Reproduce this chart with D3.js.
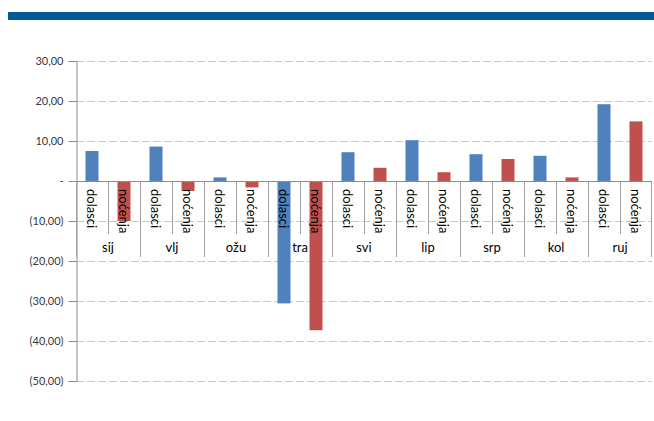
<!DOCTYPE html>
<html><head><meta charset="utf-8">
<script src="https://cdn.jsdelivr.net/npm/d3@7"></script>
<style>body{margin:0;background:#fff}svg{display:block}</style>
</head><body>
<script>
const months = ["sij","vlj","ožu","tra","svi","lip","srp","kol","ruj"];
const seriesNames = ["dolasci","noćenja"];
const dolasci = [7.5, 8.6, 0.9, -30.6, 7.2, 10.2, 6.7, 6.3, 19.2];
const nocenja = [-10.0, -2.5, -1.6, -37.3, 3.3, 2.2, 5.5, 0.9, 14.9];
const yTicks = [30,20,10,0,-10,-20,-30,-40,-50];
const colors = ["#4f81bd","#c0504d"];

(function(){
const W=654,H=421;
const svg=d3.select("body").append("svg").attr("width",W).attr("height",H);
svg.append("rect").attr("x",8).attr("y",12).attr("width",W-8).attr("height",8).attr("fill","#005a94");

const pLeft=76,pRight=652,pTop=61,pBottom=381;
const y=d3.scaleLinear().domain([-50,30]).range([pBottom,pTop]);
const x0=d3.scaleBand().domain(months).range([pLeft,pRight]);
const x1=d3.scaleBand().domain(seriesNames).range([0,x0.bandwidth()]);
const fmt=v=> v===0?"-": v<0? "("+d3.format(".2f")(-v).replace(".",",")+")" : d3.format(".2f")(v).replace(".",",");

svg.append("g").selectAll("line").data(yTicks.filter(d=>d!==0)).join("line")
  .attr("x1",pLeft).attr("x2",pRight).attr("y1",d=>y(d)+0.5).attr("y2",d=>y(d)+0.5)
  .attr("stroke","#c8c8c8").attr("stroke-dasharray","8,3");

const ya=svg.append("g").attr("transform",`translate(${pLeft+0.5},0)`)
  .call(d3.axisLeft(y).tickValues(yTicks).tickFormat(fmt).tickSize(8).tickPadding(5));
ya.select(".domain").attr("stroke","#8c8c8c");
ya.selectAll(".tick line").attr("stroke","#8c8c8c");
ya.selectAll(".tick text").attr("font-family","Lato, 'Open Sans', sans-serif").attr("font-size",11).attr("fill","#333844");

const data=months.map((m,i)=>({m,vals:[dolasci[i],nocenja[i]]}));
const bw=13;
const g=svg.append("g");
data.forEach(d=>{
  d.vals.forEach((v,j)=>{
    const cx=x0(d.m)+x1(seriesNames[j])+x1.bandwidth()/2;
    g.append("rect").attr("x",cx-bw/2).attr("width",bw)
      .attr("y",y(Math.max(0,v))).attr("height",Math.abs(y(v)-y(0)))
      .attr("fill",colors[j]);
  });
});

const y0=y(0)+0.5;
svg.append("line").attr("x1",pLeft).attr("x2",pRight).attr("y1",y0).attr("y2",y0).attr("stroke","#8c8c8c");
const ca=svg.append("g");
months.forEach((m,i)=>{
  const xs=x0(m);
  ca.append("line").attr("x1",xs+0.5).attr("x2",xs+0.5).attr("y1",y0).attr("y2",257).attr("stroke","#a0a0a0");
  ca.append("line").attr("x1",xs+x1.bandwidth()+0.5).attr("x2",xs+x1.bandwidth()+0.5).attr("y1",y0).attr("y2",234).attr("stroke","#a0a0a0");
  seriesNames.forEach(s=>{
    const cx=xs+x1(s)+x1.bandwidth()/2;
    ca.append("text").attr("transform",`translate(${cx-5},${189}) rotate(90)`)
      .attr("font-family","Lato, 'Open Sans', sans-serif").attr("font-size",13).attr("fill","#000")
      .attr("text-anchor","start").text(s);
  });
  ca.append("text").attr("x",xs+x0.bandwidth()/2).attr("y",252).attr("text-anchor","middle")
    .attr("font-family","Lato, 'Open Sans', sans-serif").attr("font-size",13).attr("fill","#000").text(m);
});
ca.append("line").attr("x1",pRight-0.5).attr("x2",pRight-0.5).attr("y1",y0).attr("y2",257).attr("stroke","#a0a0a0");
})();
</script>
</body></html>
